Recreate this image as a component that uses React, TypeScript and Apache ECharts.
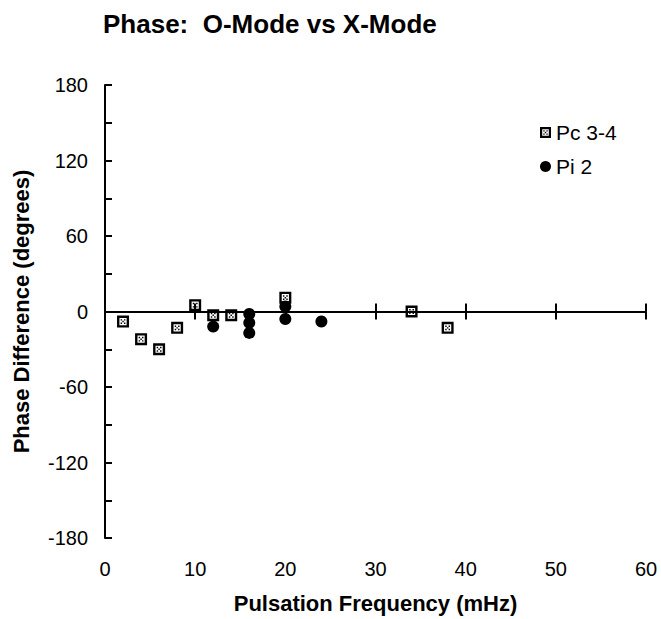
import React, { useEffect, useRef } from "react";
import * as echarts from "echarts";

const pc34: number[][] = [
  [2, -8], [4, -22], [6, -30], [8, -13], [10, 5], [12, -3], [14, -3], [20, 11], [34, 0], [38, -13],
];
const pi2: number[][] = [
  [12, -12], [16, -2], [16, -9], [16, -17], [20, 4], [20, -6], [24, -8],
];
const xTicks = { min: 0, max: 60, interval: 10 };
const yTicks = { min: -180, max: 180, interval: 60 };

const FONT = "'Liberation Sans', Arial, Helvetica, sans-serif";
const SQUARE =
  "path://M0,0L10,0L10,10L0,10Z M2,2L2,8L8,8L8,2Z M3,3L4.2,3L4.2,4.2L3,4.2Z M5.8,3L7,3L7,4.2L5.8,4.2Z M3,5.8L4.2,5.8L4.2,7L3,7Z M5.8,5.8L7,5.8L7,7L5.8,7Z M4.4,4.4L5.6,4.4L5.6,5.6L4.4,5.6Z";

export default function App() {
  const ref = useRef<HTMLDivElement>(null);
  useEffect(() => {
    if (!ref.current) return;
    const chart = echarts.init(ref.current, null, { renderer: "svg" });
    const lineStyle = { color: "#000", width: 2 };
    chart.setOption({
      animation: false,
      backgroundColor: "#fff",
      textStyle: { fontFamily: FONT, color: "#000" },
      title: {
        text: "Phase:  O-Mode vs X-Mode",
        left: 98,
        top: 6,
        textStyle: { fontFamily: FONT, fontSize: 26, fontWeight: "bold", color: "#000" },
      },
      legend: {
        orient: "vertical",
        left: 535,
        top: 117,
        itemGap: 13,
        itemWidth: 11,
        itemHeight: 11,
        textStyle: { fontFamily: FONT, fontSize: 21, color: "#000" },
        data: ["Pc 3-4", "Pi 2"],
      },
      grid: { left: 105, right: 15, top: 85, bottom: 80, containLabel: false },
      xAxis: [
        {
          type: "value",
          ...xTicks,
          position: "bottom",
          axisLine: { show: false, onZero: false },
          axisTick: { show: false },
          splitLine: { show: false },
          axisLabel: { fontFamily: FONT, fontSize: 20, color: "#000", margin: 21 },
          name: "Pulsation Frequency (mHz)",
          nameLocation: "middle",
          nameGap: 54,
          nameTextStyle: { fontFamily: FONT, fontSize: 22, fontWeight: "bold", color: "#000" },
        },
        {
          type: "value",
          ...xTicks,
          position: "bottom",
          axisLine: { show: true, onZero: true, onZeroAxisIndex: 0, lineStyle },
          axisTick: { show: true, inside: false, length: 8, lineStyle },
          axisLabel: { show: false },
          splitLine: { show: false },
        },
        {
          type: "value",
          ...xTicks,
          position: "bottom",
          axisLine: { show: false, onZero: true, onZeroAxisIndex: 0 },
          axisTick: { show: true, inside: true, length: 8, lineStyle },
          axisLabel: { show: false },
          splitLine: { show: false },
        },
      ],
      yAxis: {
        type: "value",
        ...yTicks,
        axisLine: { show: true, onZero: false, lineStyle },
        axisTick: { show: true, inside: true, length: 7, lineStyle },
        minorTick: { show: true, splitNumber: 2, length: 7, lineStyle },
        splitLine: { show: false },
        axisLabel: { fontFamily: FONT, fontSize: 20, color: "#000", margin: 17 },
        name: "Phase Difference (degrees)",
        nameLocation: "middle",
        nameGap: 73,
        nameTextStyle: { fontFamily: FONT, fontSize: 22, fontWeight: "bold", color: "#000" },
      },
      series: [
        {
          name: "Pc 3-4",
          type: "scatter",
          symbol: SQUARE,
          symbolSize: 12,
          itemStyle: { color: "#000", opacity: 1 },
          data: pc34,
          z: 3,
        },
        {
          name: "Pi 2",
          type: "scatter",
          symbol: "circle",
          symbolSize: 12,
          itemStyle: { color: "#000", opacity: 1 },
          data: pi2,
          z: 2,
        },
      ],
    });
    return () => chart.dispose();
  }, []);
  return (
    <div
      ref={ref}
      style={{ position: "absolute", left: 0, top: 0, width: 661, height: 619 }}
    />
  );
}
